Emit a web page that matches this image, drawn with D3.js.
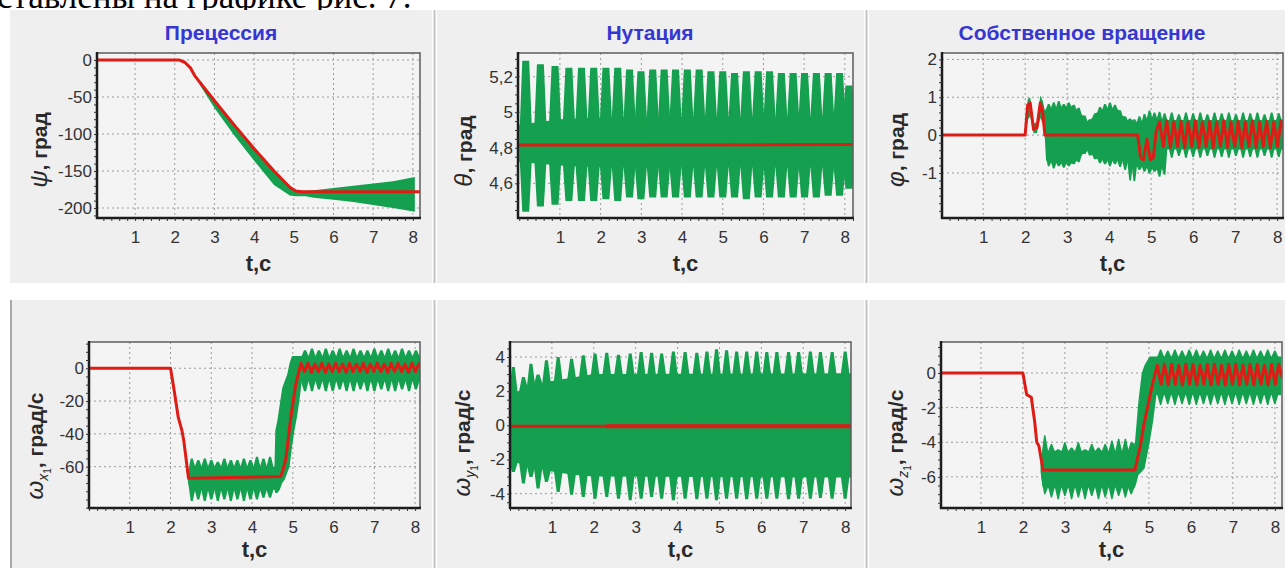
<!DOCTYPE html>
<html>
<head>
<meta charset="utf-8">
<script src="https://cdn.jsdelivr.net/npm/d3@7"></script>
<style>
  body { margin: 0; background: #fff; }
  svg { display: block; font-family: "Liberation Sans", Arial, sans-serif; }
</style>
</head>
<body>
<div id="chart"></div>
<script>
// ---- data ----
var xTicks = [1, 2, 3, 4, 5, 6, 7, 8];

// shared time grid of the fast zigzag after ~5.2 s
var zigT = [5.20, 5.29, 5.37, 5.46, 5.54, 5.63, 5.71, 5.80, 5.88, 5.97, 6.05, 6.14, 6.22, 6.31, 6.39, 6.48, 6.56, 6.65,
  6.73, 6.82, 6.90, 6.99, 7.07, 7.16, 7.24, 7.33, 7.41, 7.50, 7.58, 7.67, 7.75, 7.84, 7.92, 8.01, 8.09, 8.18];

// Прецессия
var psiTicks = [0, -50, -100, -150, -200];
var psiRedT = [0, 2.12, 2.25, 2.4, 2.5, 3.0, 3.5, 4.0, 4.5, 4.9, 5.05, 5.2, 8.2];
var psiRedY = [0, 0, -3, -11, -21, -55, -88, -120, -150, -172, -177, -178, -178];
var psiCoreT = [2.6, 3.0, 3.5, 4.0, 4.5, 4.9, 5.05, 5.3, 5.5, 6.0, 6.5, 7.0, 7.5, 8.05];
var psiCoreHi = [-26, -53, -86, -118, -148, -170, -176, -177, -176, -173, -170, -167, -164, -158];
var psiCoreLo = [-31, -65, -102, -136, -169, -183, -184, -184, -186, -189, -192, -196, -200, -205];

// Нутация
var thetaTicks = [4.6, 4.8, 5, 5.2];
var thetaRedT = [0, 2.6, 8.2];
var thetaRedY = [4.815, 4.815, 4.818];
var thetaCoreT = [0, 1, 2, 8.15];
var thetaCoreHi = [4.93, 4.96, 4.97, 4.98];
var thetaCoreLo = [4.72, 4.7, 4.69, 4.69];
var thetaToothT = [0.16, 0.52, 0.88, 1.22, 1.53, 1.83, 2.13, 2.42, 2.71, 2.99, 3.28, 3.56, 3.84, 4.13, 4.42, 4.71, 5.0,
  5.29, 5.58, 5.87, 6.15, 6.44, 6.73, 7.01, 7.3, 7.59, 7.87, 8.1];
var thetaToothHi = [5.29, 5.27, 5.26, 5.25, 5.25, 5.25, 5.25, 5.25, 5.24, 5.23, 5.24, 5.24, 5.24, 5.24, 5.24, 5.23, 5.23,
  5.22, 5.23, 5.23, 5.23, 5.22, 5.22, 5.22, 5.22, 5.22, 5.22, 5.15];
var thetaToothLo = [4.44, 4.47, 4.48, 4.5, 4.5, 4.5, 4.51, 4.5, 4.52, 4.51, 4.52, 4.52, 4.52, 4.52, 4.52, 4.52, 4.52,
  4.52, 4.51, 4.52, 4.52, 4.52, 4.52, 4.52, 4.52, 4.53, 4.53, 4.57];

// Собственное вращение
var phiTicks = [-1, 0, 1, 2];
var phiRedT = [0, 2.0, 2.06, 2.12, 2.2, 2.28, 2.36, 2.42, 2.47, 4.68, 4.75, 4.82, 4.9, 4.98, 5.05, 5.12];
var phiRedY = [0, 0, 0.8, 0.85, 0.15, 0.2, 0.85, 0.6, 0, 0, -0.6, -0.65, -0.1, -0.65, -0.6, 0.1];
var phiZigY = [0.35, -0.3, 0.38, -0.32, 0.35, -0.3, 0.36, -0.33, 0.35, -0.3, 0.38, -0.32, 0.35, -0.3, 0.36, -0.33, 0.35, -0.3,
  0.38, -0.32, 0.35, -0.3, 0.36, -0.33, 0.35, -0.3, 0.38, -0.32, 0.35, -0.3, 0.36, -0.33, 0.35, -0.3, 0.38, 0.1];
var phiCoreT = [2.0, 2.06, 2.12, 2.2, 2.28, 2.36, 2.42, 2.47, 2.5, 2.8, 3.1, 3.3, 3.4, 3.5, 3.6, 3.75, 4.0, 4.2, 4.3, 4.45,
  4.6, 4.7, 4.8, 4.95, 5.1, 5.25, 5.35, 8.15];
var phiCoreHi = [0.05, 0.95, 1.0, 0.3, 0.35, 1.05, 0.9, 0.65, 0.7, 0.74, 0.75, 0.62, 0.45, 0.34, 0.45, 0.64, 0.72, 0.68, 0.52, 0.38,
  0.36, 0.32, 0.36, 0.45, 0.45, 0.4, 0.4, 0.4];
var phiCoreLo = [-0.05, 0.4, 0.5, 0.05, 0.05, 0.45, 0.3, -0.1, -0.68, -0.74, -0.74, -0.62, -0.42, -0.4, -0.52, -0.64, -0.68,
  -0.68, -0.68, -0.72, -0.78, -0.82, -0.82, -0.86, -0.9, -0.9, -0.38, -0.38];
var phiToothT = [2.56, 2.68, 2.8, 2.92, 3.04, 3.16, 3.28, 3.42, 3.54, 3.66, 3.78, 3.9, 4.02, 4.14, 4.26, 4.38, 4.5, 4.6, 4.72,
  4.84, 4.96, 5.08, 5.2, 5.32, 5.49, 5.66, 5.83, 6.0, 6.17, 6.34, 6.51, 6.68, 6.85, 7.02, 7.19, 7.36, 7.53, 7.7, 7.87, 8.04];
var phiToothHi = [0.82, 0.87, 0.9, 0.82, 0.86, 0.8, 0.72, 0.52, 0.42, 0.58, 0.74, 0.82, 0.86, 0.8, 0.66, 0.5, 0.44, 0.42, 0.5,
  0.56, 0.65, 0.6, 0.62, 0.58, 0.6, 0.55, 0.6, 0.58, 0.6, 0.55, 0.6, 0.58, 0.6, 0.55, 0.6, 0.58, 0.6, 0.55, 0.6, 0.58];
var phiToothLo = [-0.82, -0.88, -0.82, -0.86, -0.82, -0.77, -0.72, -0.5, -0.54, -0.64, -0.74, -0.77, -0.82, -0.77, -0.84, -0.92,
  -1.2, -1.22, -0.92, -0.97, -1.02, -0.97, -1.1, -1.05, -0.6, -0.55, -0.6, -0.58, -0.6, -0.55, -0.6, -0.58, -0.6, -0.55,
  -0.6, -0.58, -0.6, -0.55, -0.6, -0.58];

// omega x1
var omegaXTicks = [0, -20, -40, -60];
var omegaXRedT = [0, 2.0, 2.08, 2.19, 2.28, 2.33, 2.44, 4.7, 4.76, 4.83, 4.95, 5.07];
var omegaXRedY = [0, 0, -12, -30, -38, -45, -67, -66, -62, -55, -30, -10];
var omegaXZigY = [3, -2, 3, -2.5, 2.5, -2, 3, -2.5, 2.5, -2, 3, -2, 2.5, -2.5, 3, -2, 2.5, -2,
  3, -2.5, 2.5, -2, 3, -2, 2.5, -2.5, 3, -2, 3, -2, 2.5, -2.5, 3, -2, 2.5, 0];
var omegaXCoreT = [2.42, 2.47, 4.55, 4.57, 4.62, 4.68, 4.74, 4.80, 4.86, 4.92, 4.98, 5.04, 5.10, 5.16, 5.22, 8.15];
var omegaXCoreHi = [-64, -60, -60, -38, -32, -22, -12, -8, -4, 3, 7.5, 7.5, 7.5, 7.5, 7.5, 7.5];
var omegaXCoreLo = [-68, -74, -74, -76, -76, -74, -70, -68, -64, -60, -48, -38, -30, -20, -8, -8];
var omegaXToothT = [2.52, 2.68, 2.84, 3.0, 3.16, 3.32, 3.48, 3.64, 3.8, 3.96, 4.12, 4.28, 4.44, 5.3, 5.47, 5.64, 5.81, 5.98,
  6.15, 6.32, 6.49, 6.66, 6.83, 7.0, 7.17, 7.34, 7.51, 7.68, 7.85, 8.02];
var omegaXToothHi = [-55, -56, -55, -56, -57, -55, -56, -56, -55, -56, -54, -55, -54, 11, 12, 11, 12, 11,
  12, 11, 12, 11, 11, 12, 11, 12, 11, 12, 11, 11];
var omegaXToothLo = [-81, -80, -81, -80, -81, -80, -81, -80, -81, -80, -80, -79, -79, -14, -14, -13, -14, -14,
  -13, -14, -14, -13, -14, -14, -13, -14, -14, -13, -14, -13];

// omega y1
var omegaYTicks = [-4, -2, 0, 2, 4];
var omegaYRedT = [0, 2.3, 8.2];
var omegaYRedY = [-0.05, -0.05, -0.05];
var omegaYRippleT = [2.3, 8.2];
var omegaYRippleHi = [0.07, 0.07];
var omegaYRippleLo = [-0.17, -0.17];
var omegaYCoreT = [0, 0.5, 1.0, 1.5, 2.0, 8.15];
var omegaYCoreHi = [1.8, 2.3, 2.6, 2.8, 3.0, 3.05];
var omegaYCoreLo = [-2.1, -2.4, -2.7, -2.9, -3.0, -3.05];
var omegaYToothT = [0.08, 0.32, 0.5, 0.67, 0.87, 1.15, 1.47, 1.75, 2.03, 2.31, 2.59, 2.87, 3.13, 3.38, 3.62, 3.9, 4.18,
  4.46, 4.7, 4.93, 5.17, 5.41, 5.65, 5.89, 6.13, 6.37, 6.65, 6.89, 7.17, 7.41, 7.69, 8.0];
var omegaYToothHi = [3.42, 2.83, 3.61, 2.97, 3.81, 4.0, 3.9, 4.1, 4.2, 4.25, 4.14, 4.2, 4.3, 4.25, 4.2, 4.33, 4.3,
  4.25, 4.33, 4.45, 4.39, 4.33, 4.33, 4.33, 4.3, 4.3, 4.3, 4.3, 4.33, 4.3, 4.3, 4.33];
var omegaYToothLo = [-2.73, -3.41, -3.02, -3.7, -3.32, -3.9, -4.06, -4.2, -4.3, -4.2, -4.3, -4.39, -4.3, -4.2, -4.3, -4.39,
  -4.3, -4.33, -4.3, -4.39, -4.3, -4.3, -4.33, -4.3, -4.3, -4.3, -4.33, -4.3, -4.3, -4.25, -4.3, -4.3];

// omega z1
var omegaZTicks = [0, -2, -4, -6];
var omegaZRedT = [0, 2.0, 2.09, 2.2, 2.28, 2.33, 2.38, 2.48, 4.67, 4.74, 4.79, 4.88, 4.98, 5.08];
var omegaZRedY = [0, 0, -1.25, -1.4, -2.8, -4.0, -4.2, -5.6, -5.6, -4.8, -4.3, -3.0, -1.85, -0.7];
var omegaZZigY = [0.45, -0.65, 0.5, -0.7, 0.5, -0.65, 0.45, -0.7, 0.5, -0.65, 0.5, -0.7, 0.45, -0.65, 0.5, -0.7, 0.5, -0.65,
  0.45, -0.7, 0.5, -0.65, 0.5, -0.7, 0.45, -0.65, 0.5, -0.7, 0.5, -0.65, 0.45, -0.7, 0.5, -0.65, 0.5, -0.3];
var omegaZCoreT = [2.42, 2.47, 4.62, 4.67, 4.71, 4.75, 4.83, 4.9, 5.02, 5.1, 5.18, 8.15];
var omegaZCoreHi = [-5.0, -4.5, -4.5, -3.96, -2.8, -1.65, 0.0, 0.47, 0.95, 0.95, 0.95, 0.95];
var omegaZCoreLo = [-5.7, -6.6, -6.6, -6.6, -6.3, -5.9, -5.7, -5.5, -4.0, -2.8, -1.27, -1.27];
var omegaZToothT = [2.52, 2.68, 2.84, 3.0, 3.16, 3.32, 3.48, 3.64, 3.8, 3.96, 4.12, 4.28, 4.44, 4.58, 5.28, 5.45, 5.62,
  5.79, 5.96, 6.13, 6.3, 6.47, 6.64, 6.81, 6.98, 7.15, 7.32, 7.49, 7.66, 7.83, 8.0];
var omegaZToothHi = [-3.6, -4.1, -4.4, -4.0, -4.3, -4.0, -4.4, -4.1, -4.3, -4.1, -3.9, -3.8, -3.8, -4.0, 1.35, 1.3, 1.35,
  1.3, 1.35, 1.35, 1.3, 1.35, 1.3, 1.35, 1.3, 1.35, 1.3, 1.35, 1.3, 1.35, 1.3];
var omegaZToothLo = [-7.0, -7.2, -7.3, -7.1, -7.3, -7.2, -7.3, -7.1, -7.3, -7.2, -7.3, -7.1, -7.2, -7.0, -1.85, -1.8, -1.85,
  -1.8, -1.85, -1.85, -1.8, -1.85, -1.8, -1.85, -1.8, -1.85, -1.8, -1.85, -1.8, -1.85, -1.8];

// ---- drawing ----
var width = 1285, height = 568;
var green = '#14a04f', red = '#de1b14';
var panelBg = '#efefef', plotBg = '#f4f4f4';

var svg = d3.select('#chart').append('svg')
  .attr('width', width)
  .attr('height', height);

// cut-off line of the page text above the figure
svg.append('text')
  .attr('x', -3).attr('y', 8)
  .attr('font-family', '"Liberation Serif", "Times New Roman", serif')
  .attr('font-size', 35)
  .attr('fill', '#000')
  .text('ставлены на графике рис. 7.');

// panel backgrounds and separators
var cols = [[10, 432], [437, 864], [869, 1285]];
var rows = [[10, 283], [300, 568]];
rows.forEach(function (r) {
  cols.forEach(function (c) {
    svg.append('rect').attr('x', c[0]).attr('y', r[0])
      .attr('width', c[1] - c[0]).attr('height', r[1] - r[0])
      .attr('fill', panelBg);
  });
  [434.5, 866.5].forEach(function (sx) {
    svg.append('line').attr('x1', sx).attr('x2', sx).attr('y1', r[0]).attr('y2', r[1])
      .attr('stroke', '#c4c4c4').attr('stroke-width', 2);
  });
});
svg.append('line').attr('x1', 11).attr('x2', 11).attr('y1', 300).attr('y2', 568)
  .attr('stroke', '#a8a8a8').attr('stroke-width', 2);

var panels = [
  { id: 'psi', title: 'Прецессия', titleX: 221, left: 97, right: 420, top: 53, bottom: 218,
    xDomain: [0.04, 8.18], yDomain: [-213.5, 9.5], yTicks: psiTicks,
    redT: psiRedT, redY: psiRedY, coreT: psiCoreT, coreHi: psiCoreHi, coreLo: psiCoreLo,
    ySym: 'ψ', yRest: ', град', yLabelX: 47, yLabelY: 150 },
  { id: 'theta', title: 'Нутация', titleX: 650, left: 518, right: 853, top: 53, bottom: 218,
    xDomain: [-0.03, 8.2], yDomain: [4.405, 5.333], yTicks: thetaTicks,
    redT: thetaRedT, redY: thetaRedY, coreT: thetaCoreT, coreHi: thetaCoreHi, coreLo: thetaCoreLo,
    toothT: thetaToothT, toothHi: thetaToothHi, toothLo: thetaToothLo, toothBase: 0.145, toothTop: 0.085,
    ySym: 'θ', yRest: ', град', yLabelX: 472, yLabelY: 151 },
  { id: 'phi', title: 'Собственное вращение', titleX: 1082, left: 942, right: 1283, top: 53, bottom: 218,
    xDomain: [0.02, 8.14], yDomain: [-2.19, 2.17], yTicks: phiTicks,
    redT: phiRedT.concat(zigT), redY: phiRedY.concat(phiZigY),
    coreT: phiCoreT, coreHi: phiCoreHi, coreLo: phiCoreLo,
    toothT: phiToothT, toothHi: phiToothHi, toothLo: phiToothLo, toothBase: 0.065, toothTop: 0.02,
    ySym: 'φ', yRest: ', град', yLabelX: 904, yLabelY: 150 },
  { id: 'wx', left: 89, right: 420, top: 342, bottom: 508,
    xDomain: [0, 8.12], yDomain: [-85.2, 16.0], yTicks: omegaXTicks,
    redT: omegaXRedT.concat(zigT), redY: omegaXRedY.concat(omegaXZigY),
    coreT: omegaXCoreT, coreHi: omegaXCoreHi, coreLo: omegaXCoreLo,
    toothT: omegaXToothT, toothHi: omegaXToothHi, toothLo: omegaXToothLo, toothBase: 0.085, toothTop: 0.025,
    ySym: 'ω', ySub: 'x', yRest: ', град/с', yLabelX: 43, yLabelY: 446 },
  { id: 'wy', left: 510, right: 851, top: 342, bottom: 508,
    xDomain: [0, 8.14], yDomain: [-4.84, 4.88], yTicks: omegaYTicks,
    redT: omegaYRedT, redY: omegaYRedY, rippleT: omegaYRippleT, rippleHi: omegaYRippleHi, rippleLo: omegaYRippleLo,
    coreT: omegaYCoreT, coreHi: omegaYCoreHi, coreLo: omegaYCoreLo,
    toothT: omegaYToothT, toothHi: omegaYToothHi, toothLo: omegaYToothLo, toothBase: 0.1, toothTop: 0.035,
    ySym: 'ω', ySub: 'y', yRest: ', град/с', yLabelX: 470, yLabelY: 443 },
  { id: 'wz', left: 941, right: 1282, top: 342, bottom: 508,
    xDomain: [0.05, 8.17], yDomain: [-7.8, 1.79], yTicks: omegaZTicks,
    redT: omegaZRedT.concat(zigT), redY: omegaZRedY.concat(omegaZZigY),
    coreT: omegaZCoreT, coreHi: omegaZCoreHi, coreLo: omegaZCoreLo,
    toothT: omegaZToothT, toothHi: omegaZToothHi, toothLo: omegaZToothLo, toothBase: 0.08, toothTop: 0.015,
    ySym: 'ω', ySub: 'z', yRest: ', град/с', yLabelX: 903, yLabelY: 443 }
];

panels.forEach(drawPanel);

function drawPanel(p) {
  var x = d3.scaleLinear().domain(p.xDomain).range([p.left, p.right]);
  var y = d3.scaleLinear().domain(p.yDomain).range([p.bottom, p.top]);
  var g = svg.append('g');

  g.append('rect')
    .attr('x', p.left).attr('y', p.top)
    .attr('width', p.right - p.left).attr('height', p.bottom - p.top)
    .attr('fill', plotBg);

  // dotted grid
  g.selectAll('line.hgrid').data(p.yTicks).enter().append('line')
    .attr('class', 'hgrid')
    .attr('x1', p.left).attr('x2', p.right)
    .attr('y1', function (d) { return y(d); }).attr('y2', function (d) { return y(d); })
    .attr('stroke', '#9c9c9c').attr('stroke-dasharray', '2,3');
  g.selectAll('line.vgrid').data(xTicks).enter().append('line')
    .attr('class', 'vgrid')
    .attr('x1', function (d) { return x(d); }).attr('x2', function (d) { return x(d); })
    .attr('y1', p.top).attr('y2', p.bottom)
    .attr('stroke', '#9c9c9c').attr('stroke-dasharray', '2,3');

  var clipId = 'clip-' + p.id;
  g.append('clipPath').attr('id', clipId).append('rect')
    .attr('x', p.left).attr('y', p.top)
    .attr('width', p.right - p.left).attr('height', p.bottom - p.top);
  var plot = g.append('g').attr('clip-path', 'url(#' + clipId + ')');

  // green envelope: solid core plus the teeth of the fast oscillation
  var core = p.coreT.map(function (t, i) { return { t: t, hi: p.coreHi[i], lo: p.coreLo[i] }; });
  var area = d3.area()
    .x(function (d) { return x(d.t); })
    .y0(function (d) { return y(d.lo); })
    .y1(function (d) { return y(d.hi); });
  plot.append('path').datum(core).attr('d', area).attr('fill', green);

  if (p.toothT) {
    var hiAt = d3.scaleLinear().domain(p.coreT).range(p.coreHi).clamp(true);
    var loAt = d3.scaleLinear().domain(p.coreT).range(p.coreLo).clamp(true);
    var w = p.toothBase, hw = p.toothTop;
    var pts = d3.line().x(function (q) { return x(q[0]); }).y(function (q) { return y(q[1]); });
    var teeth = p.toothT.map(function (t, i) { return { t: t, hi: p.toothHi[i], lo: p.toothLo[i] }; });
    plot.selectAll('path.tooth').data(teeth).enter().append('path')
      .attr('class', 'tooth')
      .attr('d', function (d) {
        return pts([
          [d.t - w, hiAt(d.t - w)], [d.t - hw, d.hi], [d.t + hw, d.hi], [d.t + w, hiAt(d.t + w)],
          [d.t + w, loAt(d.t + w)], [d.t + hw, d.lo], [d.t - hw, d.lo], [d.t - w, loAt(d.t - w)]
        ]) + 'Z';
      })
      .attr('fill', green);
  }

  // red mean line
  var redLine = d3.line()
    .x(function (d) { return x(d[0]); })
    .y(function (d) { return y(d[1]); });
  plot.append('path')
    .datum(p.redT.map(function (t, i) { return [t, p.redY[i]]; }))
    .attr('d', redLine)
    .attr('fill', 'none')
    .attr('stroke', red)
    .attr('stroke-width', 3)
    .attr('stroke-linejoin', 'round');
  if (p.rippleT) {
    plot.append('path')
      .datum(p.rippleT.map(function (t, i) { return { t: t, hi: p.rippleHi[i], lo: p.rippleLo[i] }; }))
      .attr('d', area)
      .attr('fill', red);
  }

  // frame: thin grey top/right, heavy dark left/bottom
  g.append('rect')
    .attr('x', p.left).attr('y', p.top)
    .attr('width', p.right - p.left).attr('height', p.bottom - p.top)
    .attr('fill', 'none').attr('stroke', '#5c5c5c').attr('stroke-width', 1.5);
  g.append('line').attr('x1', p.left).attr('x2', p.left).attr('y1', p.top - 1).attr('y2', p.bottom + 1)
    .attr('stroke', '#1c1c1c').attr('stroke-width', 2.5);
  g.append('line').attr('x1', p.left - 1).attr('x2', p.right + 1).attr('y1', p.bottom).attr('y2', p.bottom)
    .attr('stroke', '#1c1c1c').attr('stroke-width', 2.5);

  // minor ticks
  var minorX = g.append('g').attr('transform', 'translate(0,' + p.bottom + ')')
    .call(d3.axisBottom(x).ticks(32).tickSize(3).tickFormat(''));
  minorX.select('.domain').remove();
  minorX.selectAll('line').attr('stroke', '#333');
  var minorY = g.append('g').attr('transform', 'translate(' + p.left + ',0)')
    .call(d3.axisLeft(y).ticks(20).tickSize(3).tickFormat(''));
  minorY.select('.domain').remove();
  minorY.selectAll('line').attr('stroke', '#333');

  // tick labels
  var ax = g.append('g').attr('transform', 'translate(0,' + p.bottom + ')')
    .call(d3.axisBottom(x).tickValues(xTicks).tickSize(0).tickPadding(13));
  var ay = g.append('g').attr('transform', 'translate(' + p.left + ',0)')
    .call(d3.axisLeft(y).tickValues(p.yTicks).tickSize(0).tickPadding(5)
      .tickFormat(function (d) { return String(d).replace('.', ','); }));
  [ax, ay].forEach(function (a) {
    a.select('.domain').remove();
    a.attr('font-family', '"Liberation Sans", Arial, sans-serif').attr('font-size', 17);
    a.selectAll('text').attr('fill', '#333');
  });

  // axis titles
  svg.append('text')
    .attr('x', (p.left + p.right) / 2).attr('y', p.bottom + (p.top < 100 ? 53 : 49))
    .attr('text-anchor', 'middle')
    .attr('font-size', 22).attr('font-weight', 'bold').attr('fill', '#2a2a2a')
    .text('t,с');

  var yl = svg.append('text')
    .attr('transform', 'translate(' + p.yLabelX + ',' + p.yLabelY + ') rotate(-90)')
    .attr('text-anchor', 'middle')
    .attr('font-size', 21).attr('font-weight', 'bold').attr('fill', '#2a2a2a');
  yl.append('tspan').attr('font-style', 'italic').attr('font-weight', 'normal').attr('font-size', 24).text(p.ySym);
  if (p.ySub) {
    yl.append('tspan').attr('font-style', 'italic').attr('font-weight', 'normal').attr('font-size', 14).attr('dy', 5).text(p.ySub);
    yl.append('tspan').attr('font-weight', 'normal').attr('font-size', 10).attr('dy', 3).text('1');
    yl.append('tspan').attr('dy', -8).text(p.yRest);
  } else {
    yl.append('tspan').text(p.yRest);
  }

  if (p.title) {
    svg.append('text')
      .attr('x', p.titleX).attr('y', 40)
      .attr('text-anchor', 'middle')
      .attr('font-size', 21).attr('font-weight', 'bold').attr('fill', '#3636d2')
      .text(p.title);
  }
}
</script>
</body>
</html>
